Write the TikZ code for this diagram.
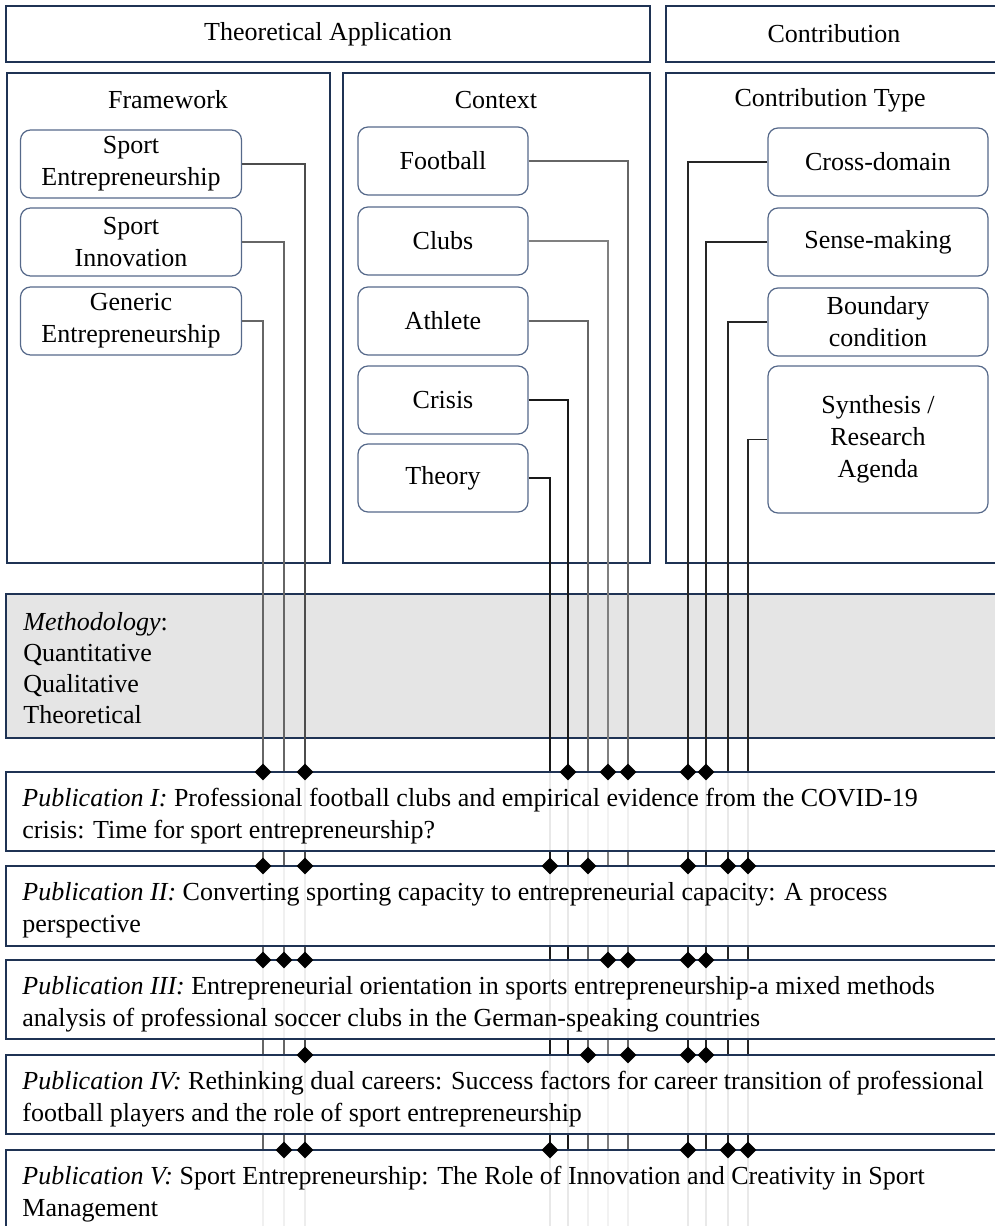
\documentclass[tikz,border=0pt]{standalone}
\usepackage{fontspec}
\setmainfont{Liberation Serif}
\usetikzlibrary{shapes.geometric}
\definecolor{framenavy}{HTML}{1F3354}
\definecolor{itemslate}{HTML}{56698A}
\definecolor{methgray}{HTML}{E5E5E5}
\tikzset{
  panel/.style={draw=framenavy,line width=1.2pt},
  item/.style={draw=itemslate,line width=0.6pt,rounded corners=5pt,align=center,inner sep=2pt},
  link/.style={line width=0.6pt,draw=black!85},
  hit/.style={diamond,fill=black,inner sep=0pt,minimum width=8.5pt,minimum height=8.5pt},
  pubtext/.style={anchor=west,align=left,inner sep=0pt}
}
\begin{document}
\begin{tikzpicture}[x=0.5pt,y=-0.5pt,font=\fontsize{13}{16}\selectfont]
  \useasboundingbox (0,0) rectangle (995,1226);
  \draw[panel] (6,6) rectangle (650,62);
  \draw[panel] (666,6) rectangle (1010,62);
  \node (theo) at (328,34) {Theoretical Application};
  \node (contrib) at (834,34) {Contribution};
  \draw[panel] (7,73) rectangle (330,563);
  \draw[panel] (343,73) rectangle (650,563);
  \draw[panel] (666,73) rectangle (1010,563);
  \node (frame) at (168,100) {Framework};
  \node (context) at (496,100) {Context};
  \node (ctype) at (830,100) {Contribution Type};
  \draw[panel,fill=methgray] (6,594) rectangle (1010,738);
  \node[pubtext,font=\fontsize{13}{15.5}\selectfont] (method) at (23,668)
    {\textit{Methodology}:\\Quantitative\\Qualitative\\Theoretical};
  % framework, context and contribution items
  \foreach \name/\ypos/\txt in {sport/164/Sport\\Entrepreneurship,innov/242/Sport\\Innovation,generic/321/Generic\\Entrepreneurship}
    \node[item,minimum width=110.5pt,minimum height=34pt] (\name) at (131,\ypos) {\txt};
  \foreach \name/\ypos/\txt in {football/161/Football,clubs/241/Clubs,athlete/321/Athlete,crisis/400/Crisis,theory/478/Theory}
    \node[item,minimum width=85pt,minimum height=34pt] (\name) at (443,\ypos) {\txt};
  \foreach \name/\ypos/\txt in {cross/162/Cross-domain,sense/242/Sense-making,boundary/322/Boundary\\condition}
    \node[item,minimum width=110pt,minimum height=34pt] (\name) at (878,\ypos) {\txt};
  \node[item,minimum width=110pt,minimum height=73.5pt] (synth) at (878,439.5) {Synthesis /\\Research\\Agenda};
  \foreach \name/\xpos in {sport/305,innov/284,generic/263,football/628,clubs/608,athlete/588,crisis/568,theory/550,cross/688,sense/706,boundary/728,synth/748}
    \coordinate (\name-end) at (\xpos,1240);
  \foreach \name/\shade in {sport/70,innov/60,generic/60,football/60,clubs/50,athlete/60,crisis/90,theory/90}
    \draw[link,draw=black!\shade] (\name.east) -| (\name-end);
  \foreach \name in {cross,sense,boundary,synth}
    \draw[link] (\name.west) -| (\name-end);
  % publications
  \foreach \ytop/\yheight in {772/79,866/80,960/79,1055/79,1150/130}
    \draw[panel,fill=white,fill opacity=0.9] (6,\ytop) rectangle (1010,\ytop+\yheight);
  \node[pubtext] (pubI) at (22,816) {\textit{Publication I:} Professional football clubs and empirical evidence from the COVID-19\\crisis: Time for sport entrepreneurship?};
  \node[pubtext] (pubII) at (22,910) {\textit{Publication II:} Converting sporting capacity to entrepreneurial capacity: A process\\perspective};
  \node[pubtext] (pubIII) at (22,1004) {\textit{Publication III:} Entrepreneurial orientation in sports entrepreneurship-a mixed methods\\analysis of professional soccer clubs in the German-speaking countries};
  \node[pubtext] (pubIV) at (22,1099) {\textit{Publication IV:} Rethinking dual careers: Success factors for career transition of professional\\football players and the role of sport entrepreneurship};
  \node[pubtext] (pubV) at (22,1194) {\textit{Publication V:} Sport Entrepreneurship: The Role of Innovation and Creativity in Sport\\Management};
  \foreach \pub/\ytop/\hits in {I/772/{263,305,568,608,628,688,706},II/866/{263,305,550,588,688,728,748},III/960/{263,284,305,608,628,688,706},IV/1055/{305,588,628,688,706},V/1150/{284,305,550,688,728,748}}
    \foreach \xpos in \hits
      \node[hit] (hit\pub\xpos) at (\xpos,\ytop) {};
\end{tikzpicture}
\end{document}
